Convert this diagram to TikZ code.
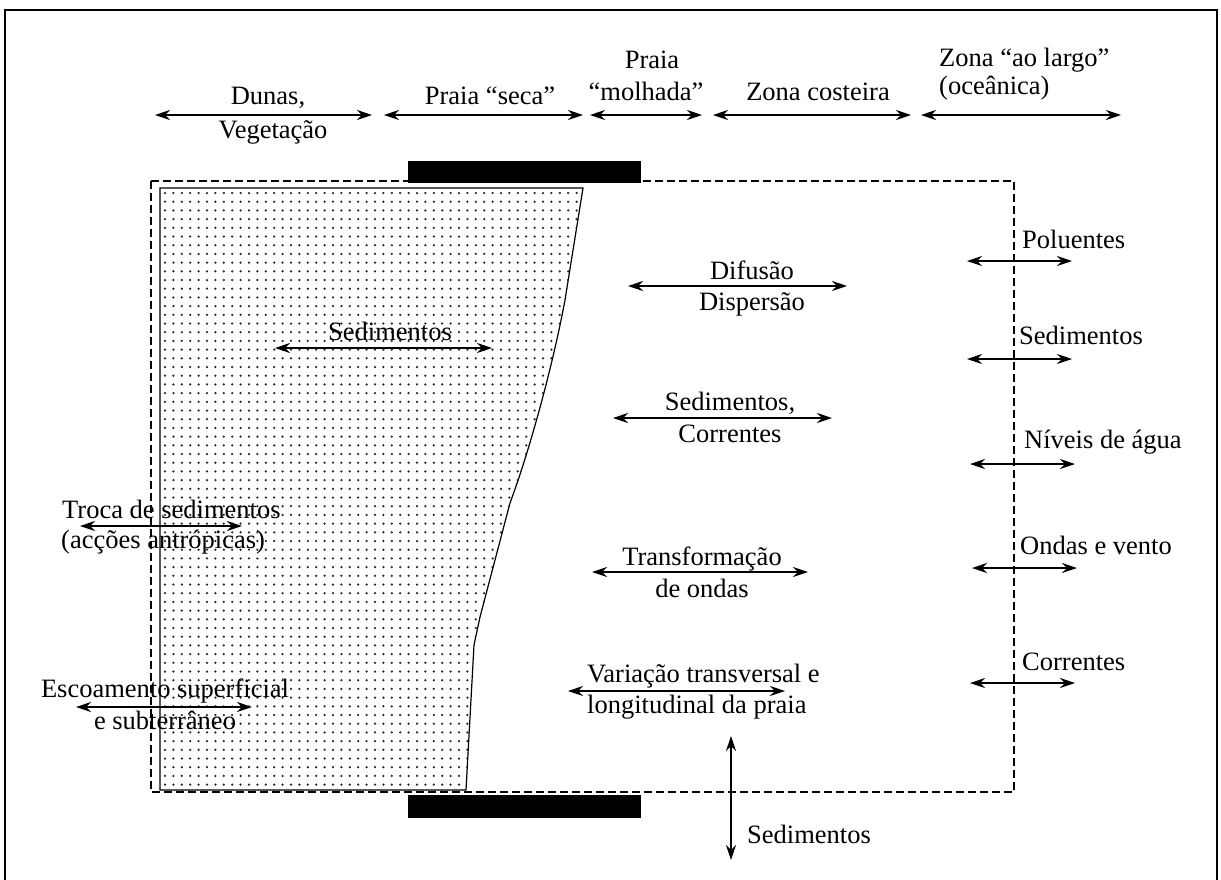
\documentclass[tikz,border=0pt]{standalone}
\usepackage{fontspec}
\setmainfont{Liberation Serif}
\usetikzlibrary{arrows.meta}
\def\sandshape{(160,188) -- (583,188) -- (565,300) .. controls (552,370) and (528,455) .. (510,503)
  -- (480,617) -- (474,645) -- (466,790) -- (160,790) -- cycle}
\begin{document}
\begin{tikzpicture}[x=1pt,y=-1pt,
  lbl/.style={inner sep=0pt,anchor=base,font=\fontsize{26.5}{32}\selectfont},
  lbll/.style={lbl,anchor=base west},
  dbl/.style={line width=1.4pt,{Stealth[length=15pt,width=10pt,inset=5pt]}-{Stealth[length=15pt,width=10pt,inset=5pt]}},
  zone/.style={line width=1.2pt,dash pattern=on 8pt off 4pt},
  bar/.style={fill=black,draw=none},
  sanddot/.style={fill=black!85}]
\useasboundingbox (0,0) rectangle (1221,879);
% outer frame
\draw[line width=2pt] (5,890) -- (5,10) -- (1217,10) -- (1217,890);
% sand dots
\begin{scope}
\clip \sandshape;
\foreach \i in {0,...,51} {
  \foreach \j in {0,...,69} {
    \fill[sanddot] ({165+\i*8.4},{193+\j*8.7}) circle (1.25);
  }
}
\end{scope}
\draw[line width=1.2pt] \sandshape;
% dashed zone
\draw[zone] (151,181) rectangle (1014,792);
% bars
\fill[bar] (408,161) rectangle (641,183);
\fill[bar] (408,795) rectangle (641,818);
% header
\coordinate (dunL) at (155,115); \coordinate (dunR) at (372,115);
\coordinate (secL) at (384,115); \coordinate (secR) at (583,115);
\coordinate (molL) at (590,115); \coordinate (molR) at (702,115);
\coordinate (cosL) at (713,115); \coordinate (cosR) at (911,115);
\coordinate (larL) at (921,115); \coordinate (larR) at (1121,115);
\draw[dbl] (dunL) -- (dunR);
\draw[dbl] (secL) -- (secR);
\draw[dbl] (molL) -- (molR);
\draw[dbl] (cosL) -- (cosR);
\draw[dbl] (larL) -- (larR);
\node[lbl] (dun1) at (268,104) {Dunas,};
\node[lbl] (dun2) at (273,138) {Vegetação};
\node[lbl] (sec1) at (490,104) {Praia “seca”};
\node[lbl] (mol1) at (652,68) {Praia};
\node[lbl] (mol2) at (646,100) {“molhada”};
\node[lbl] (cos1) at (818,100) {Zona costeira};
\node[lbll] (lar1) at (939,66) {Zona “ao largo”};
\node[lbll] (lar2) at (939,94) {(oceânica)};
% inner labels
\coordinate (difL) at (628,286); \coordinate (difR) at (847,286);
\draw[dbl] (difL) -- (difR);
\node[lbl] (dif1) at (752,279) {Difusão};
\node[lbl] (dif2) at (752,310) {Dispersão};
\coordinate (scL) at (613,418); \coordinate (scR) at (832,418);
\draw[dbl] (scL) -- (scR);
\node[lbl] (sc1) at (730,410) {Sedimentos,};
\node[lbl] (sc2) at (730,442) {Correntes};
\coordinate (trL) at (592,572); \coordinate (trR) at (808,572);
\draw[dbl] (trL) -- (trR);
\node[lbl] (tr1) at (702,565) {Transformação};
\node[lbl] (tr2) at (702,597) {de ondas};
\coordinate (vaL) at (568,691); \coordinate (vaR) at (785,691);
\draw[dbl] (vaL) -- (vaR);
\node[lbll] (va1) at (587,682) {Variação transversal e};
\node[lbll] (va2) at (587,713) {longitudinal da praia};
\coordinate (vtT) at (731,736); \coordinate (vtB) at (731,860);
\draw[dbl] (vtT) -- (vtB);
\node[lbll] (vt1) at (747,843) {Sedimentos};
\coordinate (sdL) at (275,348); \coordinate (sdR) at (492,348);
\draw[dbl] (sdL) -- (sdR);
\node[lbl] (sd1) at (390,340) {Sedimentos};
\coordinate (trcL) at (80,526); \coordinate (trcR) at (242,526);
\draw[dbl] (trcL) -- (trcR);
\node[lbll] (trc1) at (62,518) {Troca de sedimentos};
\node[lbll] (trc2) at (61,548) {(acções antrópicas)};
\coordinate (escL) at (76,707); \coordinate (escR) at (252,707);
\draw[dbl] (escL) -- (escR);
\node[lbl] (esc1) at (165,697) {Escoamento superficial};
\node[lbl] (esc2) at (165,729) {e subterrâneo};
% right column
\coordinate (poL) at (967,261); \coordinate (poR) at (1072,261);
\draw[dbl] (poL) -- (poR);
\node[lbll] (po1) at (1022,248) {Poluentes};
\coordinate (seL) at (967,359); \coordinate (seR) at (1072,359);
\draw[dbl] (seL) -- (seR);
\node[lbll] (se1) at (1019,344) {Sedimentos};
\coordinate (niL) at (970,464); \coordinate (niR) at (1075,464);
\draw[dbl] (niL) -- (niR);
\node[lbll] (ni1) at (1024,448) {Níveis de água};
\coordinate (onL) at (972,568); \coordinate (onR) at (1077,568);
\draw[dbl] (onL) -- (onR);
\node[lbll] (on1) at (1020,554) {Ondas e vento};
\coordinate (coL) at (970,683); \coordinate (coR) at (1075,683);
\draw[dbl] (coL) -- (coR);
\node[lbll] (co1) at (1022,670) {Correntes};
\end{tikzpicture}
\end{document}
